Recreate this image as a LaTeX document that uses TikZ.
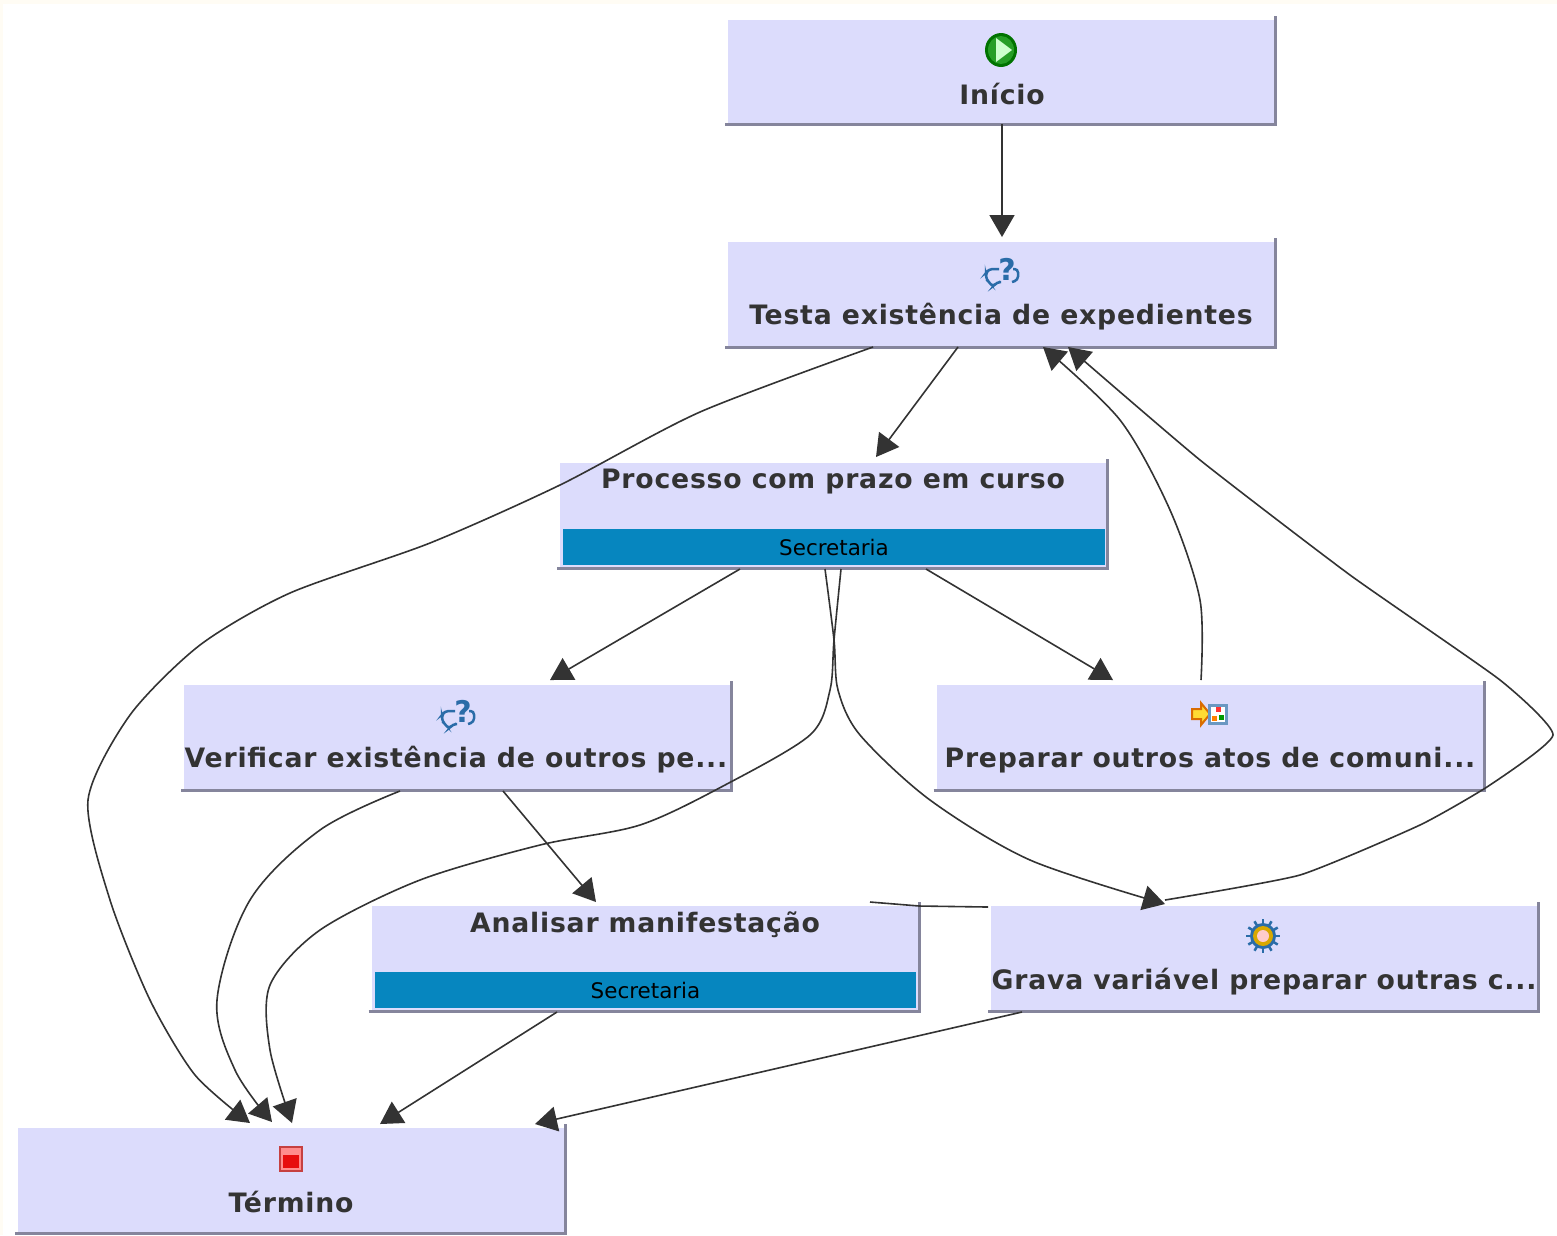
\documentclass[tikz,border=0pt]{standalone}
\usepackage{fontspec}
\setmainfont{DejaVu Sans}
\usetikzlibrary{arrows.meta}
\definecolor{boxfill}{HTML}{DCDCFC}
\definecolor{shadowc}{HTML}{85859C}
\definecolor{bandc}{HTML}{0686BF}
\definecolor{inkc}{HTML}{333333}
\definecolor{creamc}{HTML}{FFFCF4}
\definecolor{iconblue}{HTML}{2A6CA8}
\newfontfamily\labelfont[LetterSpace=2.9]{DejaVu Sans Bold}
\tikzset{
  x=0.02cm,y=-0.02cm,
  box/.style={fill=boxfill,draw=none,minimum width=10.96cm,minimum height=2.08cm,inner sep=0pt,outer sep=0pt},
  band/.style={fill=bandc,draw=none,minimum width=10.84cm,minimum height=0.72cm,inner sep=0pt,outer sep=0pt,text=black,font=\fontsize{12.2}{14}\selectfont},
  lab/.style={text=inkc,inner sep=0pt,font=\labelfont\fontsize{15.2}{18}\selectfont},
  shade line/.style={draw=shadowc,line width=0.06cm},
  conn/.style={draw=inkc,line width=0.032cm,-{Triangle[length=0.44cm,width=0.5cm]}},
  plainconn/.style={draw=inkc,line width=0.032cm},
  start icon/.pic={
    \fill[green!45!black] (0,0) ellipse[x radius=16,y radius=17];
    \fill[green!55!black!85!white] (0,0) ellipse[x radius=13,y radius=14];
    \fill[white!80!green] (-5,-12) -- (11,0) -- (-5,12) -- cycle;
  },
  ask icon/.pic={
    \draw[iconblue,line width=0.05cm,rounded corners=2pt] (-3,-3) -- (-13,-3) -- (-16,1) -- (-16,7) -- (-13,10) -- (-9,15) -- (-5,10) -- (-1,10);
    \draw[iconblue,line width=0.05cm,rounded corners=2pt] (11,-3) -- (16,-3) -- (16,8) -- (10,10);
    \node[inner sep=0pt,text=iconblue,font=\bfseries\fontsize{17}{17}\selectfont] at (5,-3) {?};
  },
  prep icon/.pic={
    \fill[orange!35!yellow!80!white,draw=orange!85!black,line width=0.04cm] (-17,-5) -- (-8,-5) -- (-8,-11) -- (1,0) -- (-8,11) -- (-8,5) -- (-17,5) -- cycle;
    \fill[white,draw=iconblue!70!white,line width=0.06cm] (0,-9) rectangle (17,9);
    \fill[red!80] (7,-7) rectangle (12,-2);
    \fill[orange] (3,2) rectangle (8,7);
    \fill[green!60!black] (10,1) rectangle (15,6);
  },
  gear icon/.pic={
    \foreach \a in {0,30,...,330}{\draw[iconblue,line width=0.05cm] (0,0) -- (\a:17);}
    \fill[iconblue] (0,0) circle[radius=13];
    \fill[orange!45!yellow!85!black] (0,0) circle[radius=10];
    \fill[red!20!white] (0,0) circle[radius=6];
  },
  stop icon/.pic={
    \fill[red!70!black!75] (-12,-13) rectangle (12,13);
    \fill[red!45!white] (-10,-11) rectangle (10,11);
    \fill[red!90!black!95!white] (-8,-4) rectangle (8,9);
  },
}
\newcommand{\boxedge}[1]{%
  \draw[shade line] ([shift={(-3,1)}]#1.south west) -- ([shift={(0,1)}]#1.south east) -- ([shift={(0,-4)}]#1.north east);}
\begin{document}
\begin{tikzpicture}
\useasboundingbox (0,0) rectangle (1557,1235);
\fill[white] (0,0) rectangle (1557,1235);
\fill[creamc] (0,0) rectangle (1557,4);
\fill[creamc] (0,0) rectangle (3,1235);

% boxes
\node[box] (inicio) at (1002,72) {};
\node[box] (testa) at (1002,294) {};
\node[box] (processo) at (834,515) {};
\node[box] (verificar) at (458,737) {};
\node[box] (preparar) at (1210.5,737) {};
\node[box] (analisar) at (645.5,958) {};
\node[box] (grava) at (1265,958) {};
\node[box] (termino) at (292,1180) {};
\node[band] (bandP) at (834,547) {Secretaria};
\node[band] (bandA) at (645.5,990) {Secretaria};
\boxedge{inicio}\boxedge{testa}\boxedge{processo}\boxedge{verificar}
\boxedge{preparar}\boxedge{analisar}\boxedge{grava}\boxedge{termino}

% labels
\node[lab] (lInicio) at (1002,94) {Início};
\node[lab] (lTesta) at (1001,317) {Testa existência de expedientes};
\node[lab] (lProcesso) at (833,482) {Processo com prazo em curso};
\node[lab] (lVerificar) at (456,760) {Verificar existência de outros pe...};
\node[lab] (lPreparar) at (1210,760) {Preparar outros atos de comuni...};
\node[lab] (lAnalisar) at (645,925) {Analisar manifestação};
\node[lab] (lGrava) at (1264,982) {Grava variável preparar outras c...};
\node[lab] (lTermino) at (291,1202) {Término};

% icons
\pic at (1001,50) {start icon};
\pic at (1002,272) {ask icon};
\pic at (458,714) {ask icon};
\pic at (1209,714) {prep icon};
\pic at (1263,936) {gear icon};
\pic at (291,1159) {stop icon};

% connectors
\draw[conn] (inicio.south) -- ([yshift=0.1cm]testa.north);
\draw[conn] ([shift={(-44,1)}]testa.south) -- ([shift={(42,-6)}]processo.north);
\draw[conn] ([shift={(-94,2)}]processo.south) -- ([shift={(92,-5)}]verificar.north);
\draw[conn] ([shift={(92,2)}]processo.south) -- ([shift={(-97.5,-5)}]preparar.north);
\draw[conn] ([shift={(45,2)}]verificar.south) -- ([shift={(-49.5,-4)}]analisar.north);
\draw[conn] ([shift={(-88.5,2)}]analisar.south) -- ([shift={(88,-4)}]termino.north);
\draw[conn] ([shift={(-243,2)}]grava.south) -- ([shift={(243,-4)}]termino.north);
\draw[plainconn] ([shift={(224.5,-4)}]analisar.north) -- ([shift={(274,0)}]analisar.north) -- ([shift={(-277,1)}]grava.north);

\draw[conn] plot[smooth,tension=0.45] coordinates {([shift={(-129,1)}]testa.south) (700,412) (560,485) (430,543) (290,593) (200,645) (130,715) (88,800) (110,900) (150,1000) (195,1075) ([shift={(-42,-5)}]termino.north)};
\draw[conn] plot[smooth,tension=0.5] coordinates {([shift={(-9.5,-5)}]preparar.north) (1200,600) (1170,510) (1120,420) ([shift={(41,1)}]testa.south)};
\draw[conn] plot[smooth,tension=0.3] coordinates {([shift={(-100,-6)}]grava.north) (1300,875) (1420,825) (1490,785) (1553,735) (1500,680) (1350,575) (1200,460) ([shift={(66,1)}]testa.south)};
\draw[conn] plot[smooth,tension=0.5] coordinates {([shift={(-9,2)}]processo.south) (834,640) (838,690) (860,735) (930,800) (1030,860) ([shift={(-100,-2)}]grava.north)};
\draw[conn] plot[smooth,tension=0.5] coordinates {([shift={(7,2)}]processo.south) (834,640) (830,690) (810,735) (725,785) (640,825) (540,845) (420,880) (320,930) (270,985) (270,1050) ([shift={(0,-5)}]termino.north)};
\draw[conn] plot[smooth,tension=0.55] coordinates {([shift={(-58,2)}]verificar.south) (320,830) (250,900) (217,1000) (235,1070) ([shift={(-20,-6)}]termino.north)};
\end{tikzpicture}
\end{document}
